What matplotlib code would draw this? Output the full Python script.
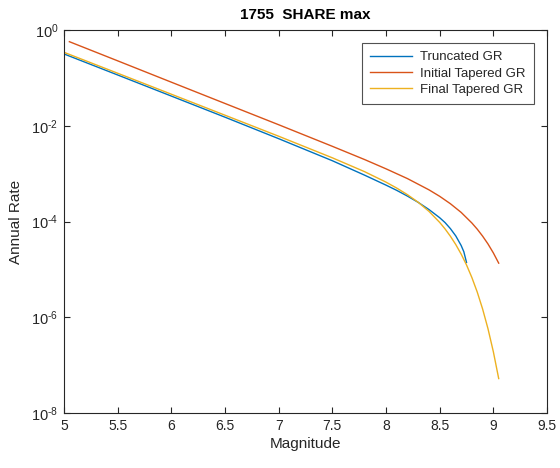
import matplotlib
matplotlib.use("Agg")
import matplotlib.pyplot as plt
from matplotlib.ticker import FixedLocator, NullLocator, FixedFormatter

plt.rcParams['font.family'] = ['Liberation Sans', 'DejaVu Sans']
plt.rcParams['mathtext.fontset'] = 'custom'
plt.rcParams['mathtext.rm'] = 'Liberation Sans'
plt.rcParams['mathtext.it'] = 'Liberation Sans:italic'
plt.rcParams['mathtext.bf'] = 'Liberation Sans:bold'
plt.rcParams['axes.unicode_minus'] = False

title = "1755  SHARE max"
xlabel = "Magnitude"
ylabel = "Annual Rate"
series_names = ["Truncated GR", "Initial Tapered GR", "Final Tapered GR"]

# Truncated GR
mag_trunc = [5.0, 5.5, 6.0, 6.5, 7.0, 7.5, 7.8, 8.0, 8.1, 8.2, 8.3, 8.4, 8.5,
             8.55, 8.6, 8.65, 8.7, 8.725, 8.75]
rate_trunc = [3.16e-1, 1.15e-1, 4.17e-2, 1.51e-2, 5.37e-3, 1.86e-3, 9.3e-4,
              5.75e-4, 4.47e-4, 3.39e-4, 2.51e-4, 1.78e-4, 1.20e-4,
              9.5e-5, 7.1e-5, 5.0e-5, 3.16e-5, 2.34e-5, 1.4e-5]

# Initial Tapered GR
mag_init = [5.05, 5.5, 6.0, 6.5, 7.0, 7.5, 7.8, 8.0, 8.2, 8.4, 8.5, 8.6, 8.7,
            8.8, 8.85, 8.9, 8.95, 9.0, 9.05]
rate_init = [5.70e-1, 2.27e-1, 8.13e-2, 2.92e-2, 1.05e-2, 3.72e-3, 1.97e-3,
             1.26e-3, 7.87e-4, 4.59e-4, 3.36e-4, 2.35e-4, 1.55e-4,
             9.31e-5, 6.92e-5, 4.95e-5, 3.40e-5, 2.21e-5, 1.35e-5]

# Final Tapered GR
mag_final = [5.0, 5.5, 6.0, 6.5, 7.0, 7.5, 7.8, 8.0, 8.1, 8.2, 8.3, 8.4, 8.5,
             8.55, 8.6, 8.65, 8.7, 8.75, 8.8, 8.85, 8.9, 8.95, 9.0, 9.05]
rate_final = [3.42e-1, 1.25e-1, 4.56e-2, 1.66e-2, 6.04e-3, 2.14e-3, 1.10e-3,
              6.64e-4, 4.99e-4, 3.63e-4, 2.52e-4, 1.63e-4, 9.59e-5,
              7.01e-5, 4.92e-5, 3.30e-5, 2.09e-5, 1.24e-5, 6.76e-6,
              3.36e-6, 1.49e-6, 5.78e-7, 1.91e-7, 5.24e-8]

xticks = [5, 5.5, 6, 6.5, 7, 7.5, 8, 8.5, 9, 9.5]
xticklabels = ["5", "5.5", "6", "6.5", "7", "7.5", "8", "8.5", "9", "9.5"]
yticks = [1e-8, 1e-6, 1e-4, 1e-2, 1e0]
yticklabels = [r"$\mathregular{10^{\text{-8}}}$", r"$\mathregular{10^{\text{-6}}}$",
               r"$\mathregular{10^{\text{-4}}}$", r"$\mathregular{10^{\text{-2}}}$",
               r"$\mathregular{10^{\text{0}}}$"]

colors = ["#0072BD", "#D95319", "#EDB120"]
axis_col = "#262626"

fig = plt.figure(figsize=(5.6, 4.68), dpi=100)
ax = fig.add_axes([64/560, 1 - 413/468, (547 - 64)/560, (413 - 30)/468])

ax.plot(mag_trunc, rate_trunc, color=colors[0], lw=1.0, label=series_names[0])
ax.plot(mag_init, rate_init, color=colors[1], lw=1.0, label=series_names[1])
ax.plot(mag_final, rate_final, color=colors[2], lw=1.0, label=series_names[2])

ax.set_yscale('log')
ax.set_xlim(5, 9.5)
ax.set_ylim(1e-8, 1e0)
ax.xaxis.set_major_locator(FixedLocator(xticks))
ax.xaxis.set_major_formatter(FixedFormatter(xticklabels))
ax.yaxis.set_major_locator(FixedLocator(yticks))
ax.yaxis.set_major_formatter(FixedFormatter(yticklabels))
ax.yaxis.set_minor_locator(NullLocator())
ax.xaxis.set_minor_locator(NullLocator())

ax.tick_params(direction='in', length=4, width=0.8, colors=axis_col,
               labelsize=10, top=True, right=True, pad=4)
ax.tick_params(axis='y', labelsize=10.5)
for s in ax.spines.values():
    s.set_color(axis_col)
    s.set_linewidth(0.8)

ax.set_xlabel(xlabel, fontsize=11, color=axis_col, labelpad=3)
ax.set_ylabel(ylabel, fontsize=11, color=axis_col, labelpad=6)
ax.set_title(title, fontsize=11, fontweight='bold', color='black', pad=8)

leg = ax.legend(loc='upper right', fontsize=9.5, frameon=True, fancybox=False,
                edgecolor=axis_col, handlelength=3.2, borderaxespad=1.0,
                labelspacing=0.3, borderpad=0.6, handletextpad=0.6)
leg.get_frame().set_linewidth(0.8)
for t in leg.get_texts():
    t.set_color(axis_col)

fig.savefig("out.png", dpi=100, facecolor='white')
